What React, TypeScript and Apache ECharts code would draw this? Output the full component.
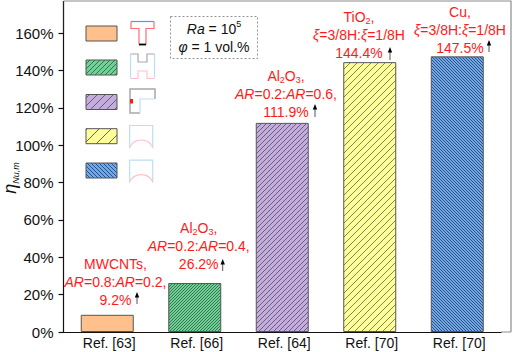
import React, { useEffect, useRef } from "react";
import * as echarts from "echarts";

const categories = ["Ref. [63]", "Ref. [66]", "Ref. [64]", "Ref. [70]", "Ref. [70]"];
const values = [9.2, 26.2, 111.9, 144.4, 147.5];
const yTicks = { min: 0, max: 160, interval: 20 };
const fills = ["#FFC08C", "#70D095", "#C3ADDA", "#FFFF99", "#70A8EA"];
const note1 = "{n|MWCNTs,}\n{i|AR}{n|=0.8:}{i|AR}{n|=0.2,}\n{n|9.2%}";
const note2 = "{n|Al}{s|2}{n|O}{s|3}{n|,}\n{i|AR}{n|=0.2:}{i|AR}{n|=0.4,}\n{n|26.2%}";
const note3 = "{n|Al}{s|2}{n|O}{s|3}{n|,}\n{i|AR}{n|=0.2:}{i|AR}{n|=0.6,}\n{n|111.9%}";
const note4 = "{n|TiO}{s|2}{n|,}\n{i|ξ}{n|=3/8H:}{i|ξ}{n|=1/8H}\n{n|144.4%}";
const note5 = "{n|Cu,}\n{i|ξ}{n|=3/8H:}{i|ξ}{n|=1/8H}\n{n|147.5%}";
const notes = [note1, note2, note3, note4, note5];

const FONT = "Liberation Sans";
const RED = "#FF1A1A";
const PINK = "#FFC2C8";
const SKY = "#BBDFF2";
const GRAY = "#A8A8A8";

function tile(bg: string, line: string, s: number, lw: number, back = false) {
  const c = document.createElement("canvas");
  c.width = s;
  c.height = s;
  const g = c.getContext("2d")!;
  g.fillStyle = bg;
  g.fillRect(0, 0, s, s);
  g.strokeStyle = line;
  g.lineWidth = lw;
  for (let k = -1; k <= 1; k++) {
    g.beginPath();
    if (back) {
      g.moveTo(k * s, 0);
      g.lineTo(k * s + s, s);
    } else {
      g.moveTo(k * s, s);
      g.lineTo(k * s + s, 0);
    }
    g.stroke();
  }
  return { image: c, repeat: "repeat" };
}

const poly = (points: number[][], stroke: string, lineWidth = 1.2) => ({
  type: "polyline",
  silent: true,
  shape: { points },
  style: { stroke, lineWidth, fill: null },
});

const richStyles = {
  n: { fontSize: 14, fill: RED, fontFamily: FONT, lineHeight: 18 },
  i: { fontSize: 14, fill: RED, fontFamily: FONT, fontStyle: "italic", lineHeight: 18 },
  s: { fontSize: 9, fill: RED, fontFamily: FONT, lineHeight: 10, verticalAlign: "bottom" },
};

function arrow(x: number, top: number, bottom: number) {
  return [
    { type: "line", silent: true, shape: { x1: x, y1: top + 4, x2: x, y2: bottom }, style: { stroke: "#555", lineWidth: 1 } },
    { type: "polygon", silent: true, shape: { points: [[x, top], [x - 2.2, top + 5.5], [x + 2.2, top + 5.5]] }, style: { fill: "#000" } },
  ];
}

function curveIcon(dy: number) {
  return [
    poly([[129.7, 147 + dy], [129.7, 125.5 + dy], [152.7, 125.5 + dy], [152.7, 147 + dy]], SKY),
    {
      type: "arc",
      silent: true,
      shape: { cx: 141.2, cy: 152.6 + dy, r: 12.6, startAngle: Math.PI + 0.37, endAngle: 2 * Math.PI - 0.37 },
      style: { stroke: PINK, lineWidth: 1.2, fill: null },
    },
  ];
}

export default function App() {
  const ref = useRef<HTMLDivElement>(null);
  useEffect(() => {
    const chart = echarts.init(ref.current!, null, { renderer: "svg" });
    const barFill = [
      fills[0],
      tile(fills[1], "#2F6B48", 3, 0.9),
      tile(fills[2], "#55476A", 5, 0.8),
      tile(fills[3], "#66664A", 7, 0.8),
      tile(fills[4], "#27466F", 3, 0.9, true),
    ];
    const swatchFill = [
      fills[0],
      tile(fills[1], "#2F6B48", 5, 0.9),
      tile(fills[2], "#55476A", 8, 0.8),
      tile(fills[3], "#55553A", 12, 0.9),
      tile(fills[4], "#27466F", 4, 0.9, true),
    ];
    const swatchY = [26, 60, 94.5, 128.7, 163];
    const noteCenters = [
      [115.5, 282],
      [198.7, 245.5],
      [286, 93.5],
      [359, 34.5],
      [460, 30],
    ];
    const arrows = [
      [137, 292, 304],
      [222.7, 259, 271],
      [315, 104, 117],
      [390, 47, 60],
      [489, 40, 52],
    ];
    const graphic: any[] = [
      // frame
      poly([[63.5, 33], [63.5, 1]], "#222", 1.3),
      poly([[63.5, 1], [511, 1], [511, 332]], "#8C8C8C", 1.2),
      poly([[501, 332], [511, 332]], "#8C8C8C", 1),
      // legend swatches
      ...swatchY.map((y, k) => ({
        type: "rect",
        silent: true,
        shape: { x: 86, y, width: 31, height: 15 },
        style: { fill: swatchFill[k], stroke: "#555", lineWidth: 1 },
      })),
      // T icon
      poly([[131, 21.5], [131, 28.5], [139, 28.5], [139, 44.5]], "#FF6A78"),
      poly([[154, 21.5], [154, 28.5], [146, 28.5], [146, 44.5]], "#FF6A78"),
      poly([[131, 21.5], [154, 21.5]], "#3FA2DC"),
      poly([[139, 44.5], [146, 44.5]], "#000", 1.8),
      // H icon
      poly([[130.5, 54], [130.5, 78]], SKY),
      poly([[154.5, 54], [154.5, 78]], SKY),
      poly([[130.5, 54], [138, 54], [138, 62], [147, 62], [147, 54], [154.5, 54]], GRAY),
      poly([[130.5, 78.5], [138, 78.5], [138, 71], [147, 71], [147, 78.5], [154.5, 78.5]], PINK),
      // L icon
      poly([[140, 113], [130, 113], [130, 89], [155, 89], [155, 99]], GRAY, 1.5),
      poly([[155, 99], [140, 99], [140, 113]], SKY),
      { type: "rect", silent: true, shape: { x: 130, y: 99, width: 3, height: 4.5 }, style: { fill: "#FF1A1A" } },
      // curved icons
      ...curveIcon(0),
      ...curveIcon(34.6),
      // info box
      {
        type: "rect",
        silent: true,
        shape: { x: 170.5, y: 16.5, width: 87, height: 42 },
        style: { fill: null, stroke: "#777", lineWidth: 0.8, lineDash: [2, 2] },
      },
      {
        type: "text",
        silent: true,
        x: 214,
        y: 37.5,
        style: {
          text: "{i|Ra}{n| = 10}{u|5}\n{i|φ}{n| = 1 vol.%}",
          align: "center",
          verticalAlign: "middle",
          rich: {
            n: { fontSize: 14, fill: "#111", fontFamily: FONT, lineHeight: 18 },
            i: { fontSize: 14, fill: "#111", fontFamily: FONT, fontStyle: "italic", lineHeight: 18 },
            u: { fontSize: 9, fill: "#111", fontFamily: FONT, lineHeight: 12, verticalAlign: "top" },
          },
        },
      },
      // annotations
      ...notes.map((text, k) => ({
        type: "text",
        silent: true,
        x: noteCenters[k][0],
        y: noteCenters[k][1],
        style: { text, align: "center", verticalAlign: "middle", rich: richStyles },
      })),
      ...arrows.flatMap((a) => arrow(a[0], a[1], a[2])),
      // y axis name
      {
        type: "text",
        silent: true,
        x: 10,
        y: 178,
        rotation: Math.PI / 2,
        style: {
          text: "{e|η}{b|Nu,m}",
          align: "center",
          verticalAlign: "middle",
          rich: {
            e: { fontSize: 18, fill: "#111", fontFamily: FONT, fontStyle: "italic", lineHeight: 20 },
            b: { fontSize: 9, fill: "#111", fontFamily: FONT, fontStyle: "italic", lineHeight: 12, verticalAlign: "bottom" },
          },
        },
      },
    ];
    chart.setOption({
      animation: false,
      backgroundColor: "#fff",
      grid: { left: 63.5, width: 437.5, top: 33, height: 299, containLabel: false },
      xAxis: {
        type: "category",
        data: categories,
        axisLine: { lineStyle: { color: "#111", width: 1.2 } },
        axisTick: { show: false },
        axisLabel: { color: "#111", fontSize: 14, fontFamily: FONT, margin: 4, padding: [0, 0, 0, 4] },
      },
      yAxis: {
        type: "value",
        min: yTicks.min,
        max: yTicks.max,
        interval: yTicks.interval,
        splitLine: { show: false },
        axisLine: { show: true, lineStyle: { color: "#111", width: 1.2 } },
        axisTick: { show: true, length: 5, lineStyle: { color: "#111", width: 1.2 } },
        axisLabel: { color: "#111", fontSize: 15, fontFamily: FONT, margin: 10, formatter: "{value}%" },
      },
      series: [
        {
          type: "bar",
          barWidth: 53,
          data: values.map((value, k) => ({
            value,
            itemStyle: { color: barFill[k], borderColor: "#555", borderWidth: 1 },
          })),
        },
      ],
      graphic,
    });
    return () => chart.dispose();
  }, []);
  return <div ref={ref} style={{ width: 512, height: 352, position: "fixed", left: 0, top: 0 }} />;
}
